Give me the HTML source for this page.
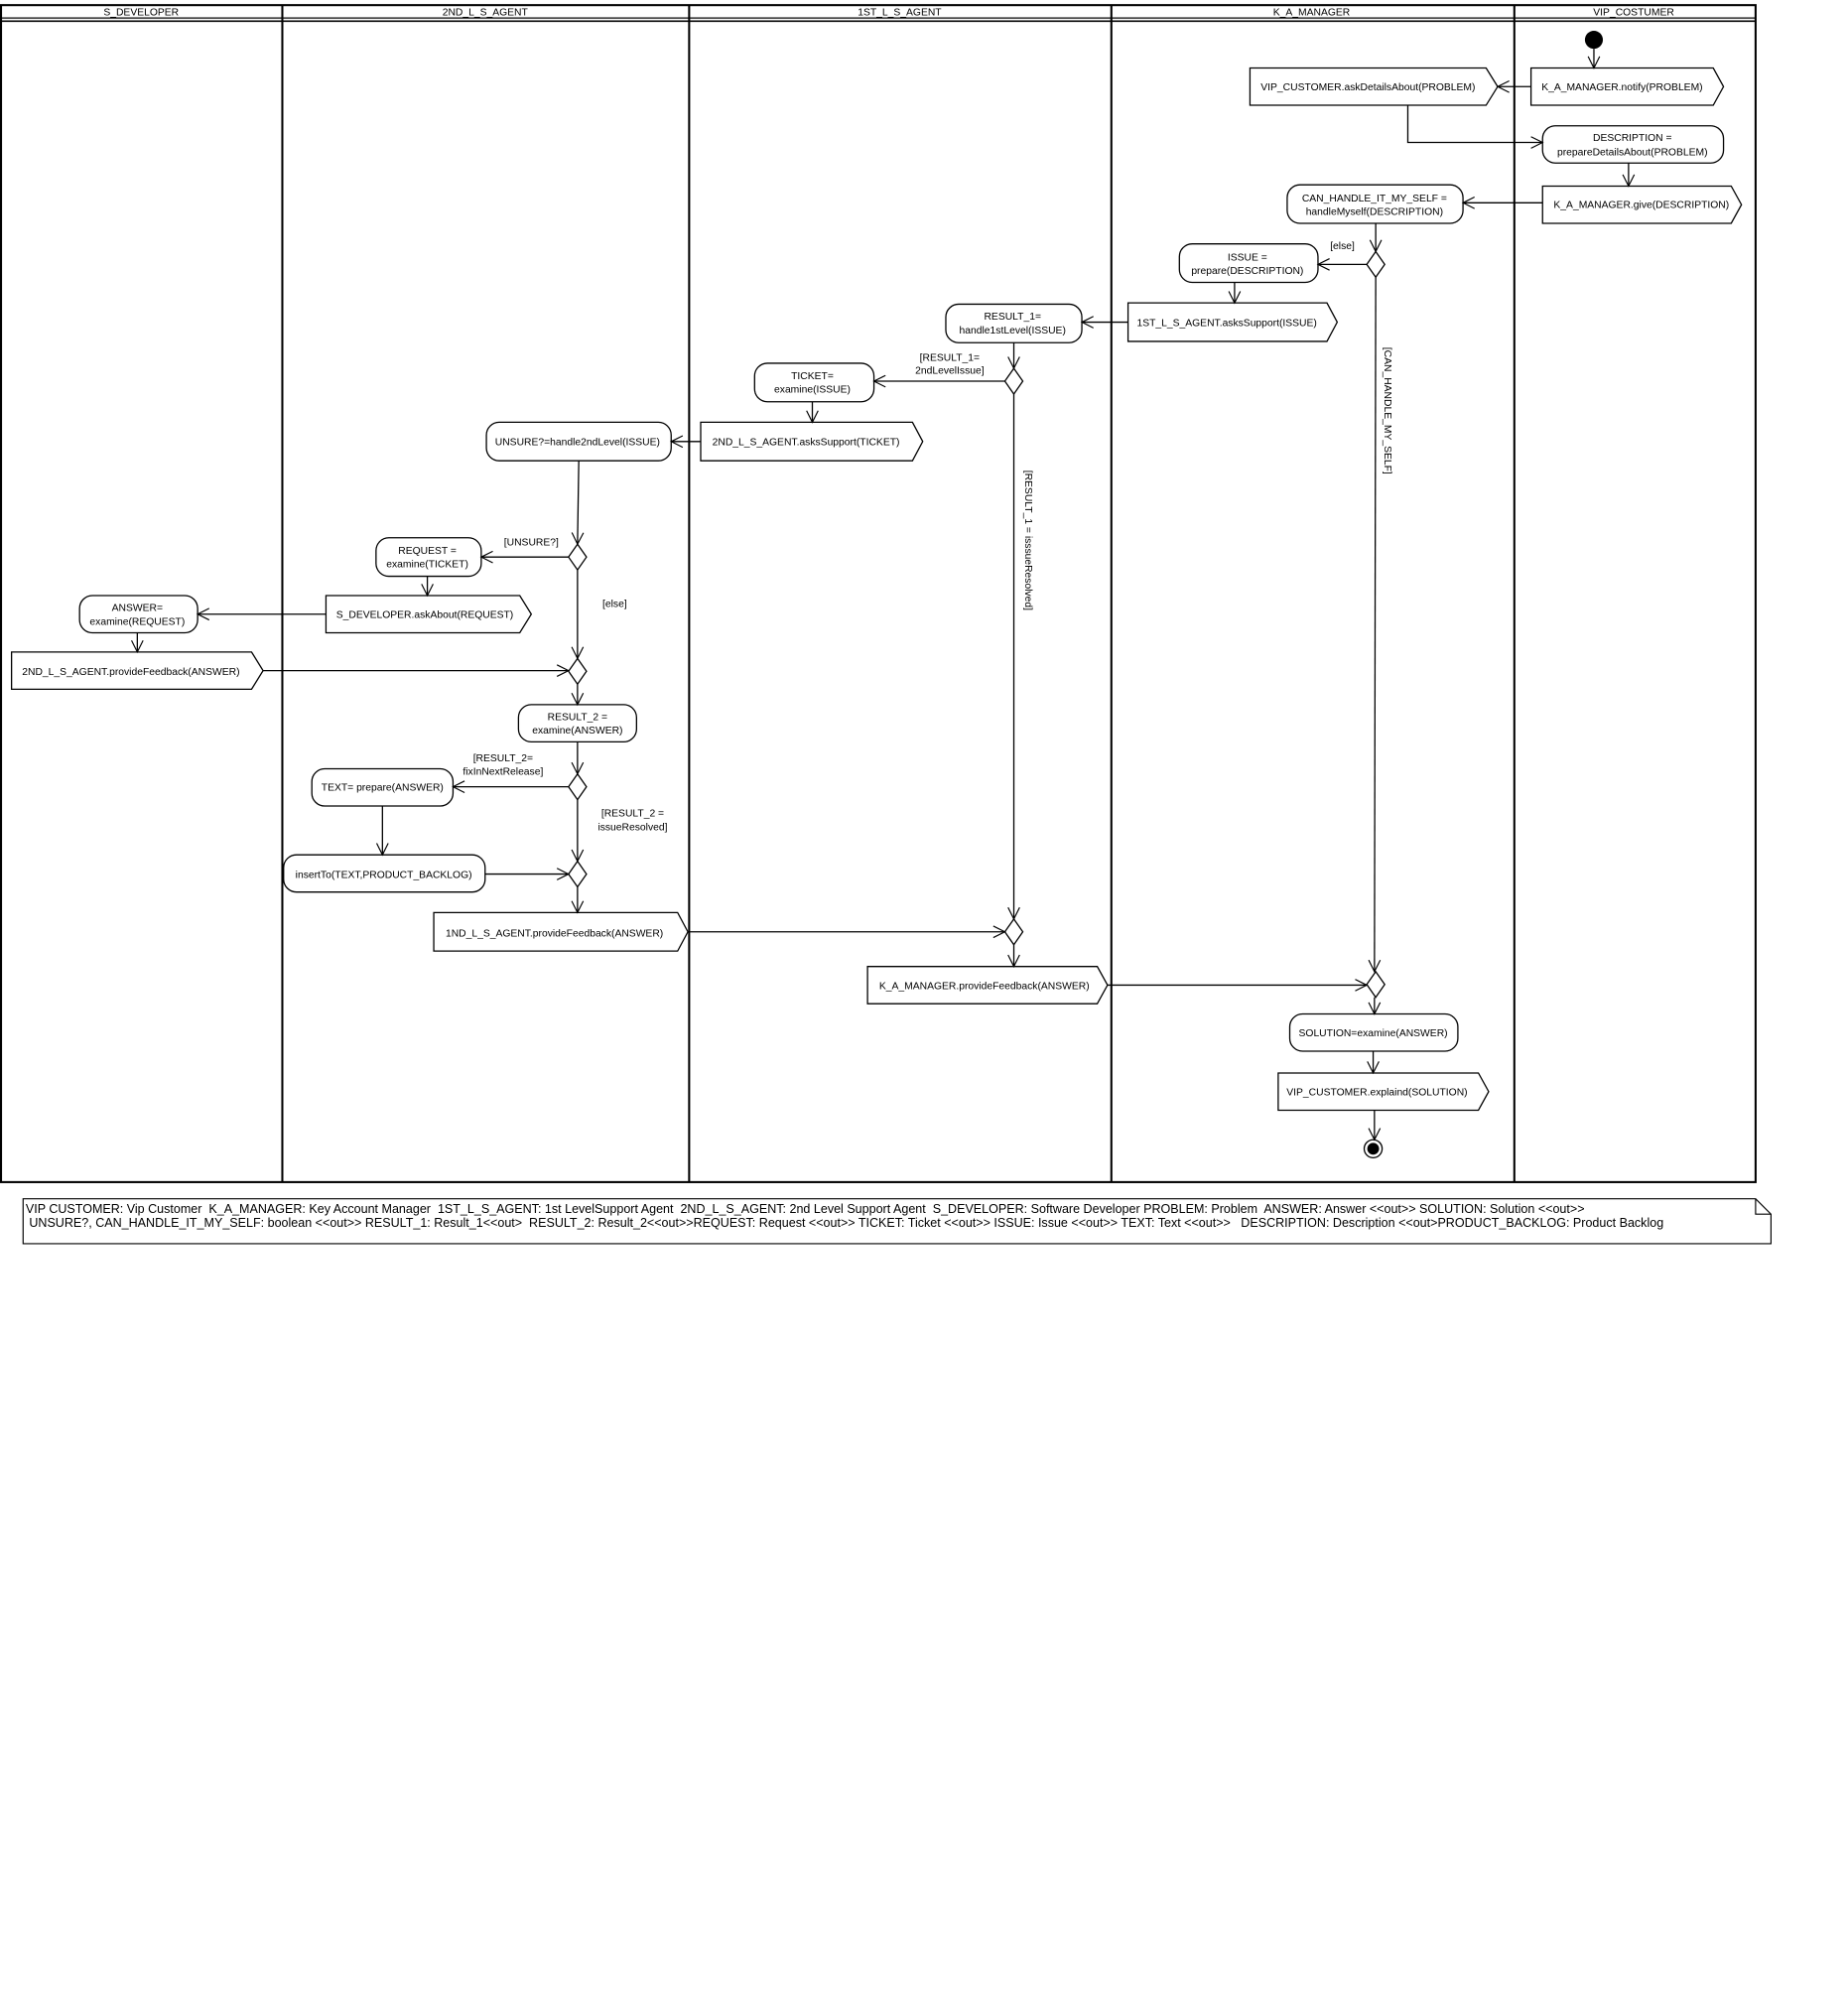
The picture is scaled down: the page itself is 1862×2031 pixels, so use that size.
<!DOCTYPE html>
<html><head><meta charset="utf-8"><style>
html,body{margin:0;padding:0;background:#fff;}
svg{display:block;}
text{font-family:"Liberation Sans Narrow","Liberation Sans",sans-serif;font-size:8px;fill:#000;}
.l{font-family:"Liberation Sans",sans-serif;font-size:9.7px;}
</style></head><body>
<svg width="1862" height="2031" viewBox="0 0 1440 1570.7" xmlns="http://www.w3.org/2000/svg">
<defs>
<marker id="a" markerUnits="userSpaceOnUse" markerWidth="12" markerHeight="12" refX="0" refY="0" viewBox="-10 -6 12 12" orient="auto" overflow="visible">
<path d="M-9,-4.5 L0,0 L-9,4.5" fill="none" stroke="#000" stroke-width="0.9"/>
</marker>
</defs>
<rect width="1440" height="1570.7" fill="#fff"/>
<g fill="none" stroke="#000">
<rect x="0.8" y="4" width="1367.2" height="917" stroke-width="1.6"/>
<line x1="0" y1="14" x2="1368" y2="14" stroke-width="1"/>
<line x1="0" y1="16.5" x2="1368" y2="16.5" stroke-width="1.3"/>
<line x1="220" y1="4" x2="220" y2="921" stroke-width="1.6"/>
<line x1="537" y1="4" x2="537" y2="921" stroke-width="1.6"/>
<line x1="866" y1="4" x2="866" y2="921" stroke-width="1.6"/>
<line x1="1180" y1="4" x2="1180" y2="921" stroke-width="1.6"/>
</g>
<g text-anchor="middle">
<text x="110" y="12">S_DEVELOPER</text>
<text x="378" y="12">2ND_L_S_AGENT</text>
<text x="701" y="12">1ST_L_S_AGENT</text>
<text x="1022" y="12">K_A_MANAGER</text>
<text x="1273" y="12">VIP_COSTUMER</text>
</g>

<g fill="#fff" stroke="#000" stroke-width="1">
<polygon points="1193,53 1335,53 1343,67.5 1335,82 1193,82"/>
<polygon points="974,53 1158,53 1167,67.5 1158,82 974,82"/>
<polygon points="1202,145 1349,145 1357,159.5 1349,174 1202,174"/>
<polygon points="879,236 1034,236 1042,251 1034,266 879,266"/>
<polygon points="546,329 711,329 719,344 711,359 546,359"/>
<polygon points="254,464 405,464 414,478.5 405,493 254,493"/>
<polygon points="9,508 196,508 205,522.5 196,537 9,537"/>
<polygon points="338,711 528,711 536,726 528,741 338,741"/>
<polygon points="676,753 855,753 863,767.5 855,782 676,782"/>
<polygon points="996,836 1152,836 1160,850.5 1152,865 996,865"/>
<rect x="1202" y="98" width="141" height="29" rx="10"/>
<rect x="1003" y="144" width="137" height="30" rx="10"/>
<rect x="919" y="190" width="108" height="30" rx="10"/>
<rect x="737" y="237" width="106" height="30" rx="10"/>
<rect x="588" y="283" width="93" height="30" rx="10"/>
<rect x="379" y="329" width="144" height="30" rx="10"/>
<rect x="293" y="419" width="82" height="30" rx="10"/>
<rect x="62" y="464" width="92" height="29" rx="10"/>
<rect x="404" y="549" width="92" height="29" rx="10"/>
<rect x="243" y="599" width="110" height="29" rx="10"/>
<rect x="221" y="666" width="157" height="29" rx="10"/>
<rect x="1005" y="790" width="131" height="29" rx="10"/>
<polygon points="1072,196 1079,206 1072,216 1065,206"/>
<polygon points="790,287 797,297 790,307 783,297"/>
<polygon points="450,424 457,434 450,444 443,434"/>
<polygon points="450,513 457,523 450,533 443,523"/>
<polygon points="450,603 457,613 450,623 443,613"/>
<polygon points="450,671 457,681 450,691 443,681"/>
<polygon points="790,716 797,726 790,736 783,726"/>
<polygon points="1072,757 1079,767 1072,777 1065,767"/>
</g>
<circle cx="1242" cy="31" r="7" fill="#000"/>
<circle cx="1070" cy="895" r="7" fill="#fff" stroke="#000" stroke-width="1"/>
<circle cx="1070" cy="895" r="4.6" fill="#000"/>

<g fill="none" stroke="#000" stroke-width="1" marker-end="url(#a)">
<path d="M1242,38 V53"/>
<path d="M1193,67.5 H1167"/>
<path d="M1097,82 V111 H1202"/>
<path d="M1269,127 V145"/>
<path d="M1202,158 H1140"/>
<path d="M1072,174 V196"/>
<path d="M1065,206 H1027"/>
<path d="M962,220 V236"/>
<path d="M879,251 H843"/>
<path d="M790,267 V287"/>
<path d="M783,297 H681"/>
<path d="M633,313 V329"/>
<path d="M546,344 H523"/>
<path d="M451,359 L450,424"/>
<path d="M443,434 H375"/>
<path d="M333,449 V464"/>
<path d="M254,478.5 H154"/>
<path d="M107,493 V508"/>
<path d="M205,522.5 H443"/>
<path d="M450,444 V513"/>
<path d="M450,533 V549"/>
<path d="M450,578 V603"/>
<path d="M443,613 H353"/>
<path d="M298,628 V666"/>
<path d="M378,681 H443"/>
<path d="M450,623 V671"/>
<path d="M450,691 V711"/>
<path d="M536,726 H783"/>
<path d="M790,307 V716"/>
<path d="M790,736 V753"/>
<path d="M863,767.5 H1065"/>
<path d="M1072,216 L1071,757"/>
<path d="M1071,777 V790"/>
<path d="M1070,819 V836"/>
<path d="M1071,865 V888"/>
</g>

<g text-anchor="middle">
<text x="1264" y="70.5">K_A_MANAGER.notify(PROBLEM)</text>
<text x="1066" y="70.5">VIP_CUSTOMER.askDetailsAbout(PROBLEM)</text>
<text x="1272" y="110">DESCRIPTION =</text>
<text x="1272" y="121">prepareDetailsAbout(PROBLEM)</text>
<text x="1279" y="162">K_A_MANAGER.give(DESCRIPTION)</text>
<text x="1071" y="157">CAN_HANDLE_IT_MY_SELF =</text>
<text x="1071" y="167.5">handleMyself(DESCRIPTION)</text>
<text x="972" y="203">ISSUE =</text>
<text x="972" y="213.5">prepare(DESCRIPTION)</text>
<text x="956" y="254">1ST_L_S_AGENT.asksSupport(ISSUE)</text>
<text x="789" y="249">RESULT_1=</text>
<text x="789" y="260">handle1stLevel(ISSUE)</text>
<text x="633" y="295.5">TICKET=</text>
<text x="633" y="306">examine(ISSUE)</text>
<text x="628" y="347">2ND_L_S_AGENT.asksSupport(TICKET)</text>
<text x="450" y="347">UNSURE?=handle2ndLevel(ISSUE)</text>
<text x="333" y="431.5">REQUEST =</text>
<text x="333" y="442">examine(TICKET)</text>
<text x="331" y="481.5">S_DEVELOPER.askAbout(REQUEST)</text>
<text x="107" y="476">ANSWER=</text>
<text x="107" y="487">examine(REQUEST)</text>
<text x="102" y="526">2ND_L_S_AGENT.provideFeedback(ANSWER)</text>
<text x="450" y="561">RESULT_2 =</text>
<text x="450" y="571.5">examine(ANSWER)</text>
<text x="298" y="616">TEXT= prepare(ANSWER)</text>
<text x="299" y="684">insertTo(TEXT,PRODUCT_BACKLOG)</text>
<text x="432" y="729.5">1ND_L_S_AGENT.provideFeedback(ANSWER)</text>
<text x="767" y="770.5">K_A_MANAGER.provideFeedback(ANSWER)</text>
<text x="1070" y="807.5">SOLUTION=examine(ANSWER)</text>
<text x="1073" y="853.5">VIP_CUSTOMER.explaind(SOLUTION)</text>
</g>
<g text-anchor="middle">
<text x="1046" y="194">[else]</text>
<text x="740" y="281">[RESULT_1=</text>
<text x="740" y="291">2ndLevelIssue]</text>
<text x="414" y="425">[UNSURE?]</text>
<text x="479" y="473">[else]</text>
<text x="392" y="593">[RESULT_2=</text>
<text x="392" y="603.5">fixInNextRelease]</text>
<text x="493" y="636">[RESULT_2 =</text>
<text x="493" y="647">issueResolved]</text>
<text transform="translate(799,421) rotate(90)">[RESULT_1 = isssueResolved]</text>
<text transform="translate(1079,320) rotate(90)">[CAN_HANDLE_MY_SELF]</text>
</g>

<path d="M18,934 H1368 L1380,946 V969 H18 Z" fill="#fff" stroke="#000" stroke-width="0.9"/>
<path d="M1368,934 V946 H1380" fill="none" stroke="#000" stroke-width="0.9"/>
<text class="l" x="20" y="945" xml:space="preserve">VIP CUSTOMER: Vip Customer  K_A_MANAGER: Key Account Manager  1ST_L_S_AGENT: 1st LevelSupport Agent  2ND_L_S_AGENT: 2nd Level Support Agent  S_DEVELOPER: Software Developer PROBLEM: Problem  ANSWER: Answer &lt;&lt;out&gt;&gt; SOLUTION: Solution &lt;&lt;out&gt;&gt;</text>
<text class="l" x="20" y="956" xml:space="preserve"> UNSURE?, CAN_HANDLE_IT_MY_SELF: boolean &lt;&lt;out&gt;&gt; RESULT_1: Result_1&lt;&lt;out&gt;  RESULT_2: Result_2&lt;&lt;out&gt;&gt;REQUEST: Request &lt;&lt;out&gt;&gt; TICKET: Ticket &lt;&lt;out&gt;&gt; ISSUE: Issue &lt;&lt;out&gt;&gt; TEXT: Text &lt;&lt;out&gt;&gt;   DESCRIPTION: Description &lt;&lt;out&gt;PRODUCT_BACKLOG: Product Backlog</text>
</svg>
</body></html>
